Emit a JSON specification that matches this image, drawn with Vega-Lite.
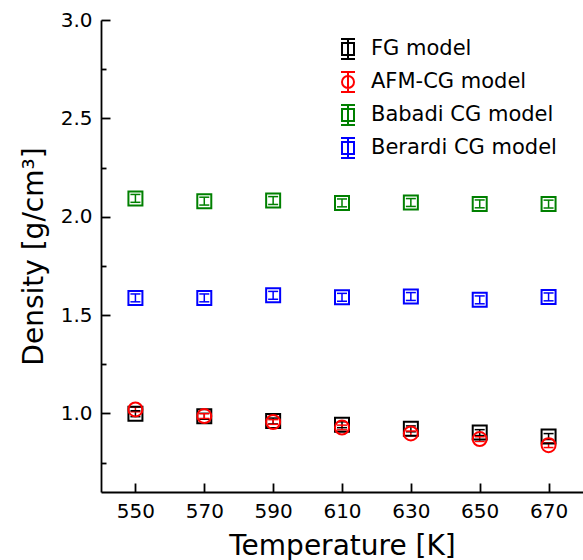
{
  "$schema": "https://vega.github.io/schema/vega-lite/v6.json",
  "width": 482,
  "height": 472,
  "autosize": {"type": "none"},
  "padding": {"left": 101, "top": 20, "right": 0, "bottom": 68},
  "background": "white",
  "config": {
    "view": {"stroke": null},
    "font": "DejaVu Sans",
    "legend": {"symbolSize": 400, "symbolStrokeWidth": 2},
    "axis": {
      "grid": false,
      "domainColor": "black",
      "domainWidth": 1.8,
      "tickColor": "black",
      "tickWidth": 1.8,
      "labelColor": "black",
      "labelFont": "DejaVu Sans",
      "labelFontSize": 20,
      "titleColor": "black",
      "titleFont": "DejaVu Sans",
      "titleFontSize": 28,
      "titleFontWeight": "normal"
    }
  },
  "data": {
    "values": [
      {"model": "FG model", "T": 550, "rho": 0.998, "lo": 0.983, "hi": 1.013},
      {"model": "FG model", "T": 570, "rho": 0.985, "lo": 0.970, "hi": 1.000},
      {"model": "FG model", "T": 590, "rho": 0.961, "lo": 0.946, "hi": 0.976},
      {"model": "FG model", "T": 610, "rho": 0.942, "lo": 0.927, "hi": 0.957},
      {"model": "FG model", "T": 630, "rho": 0.921, "lo": 0.906, "hi": 0.936},
      {"model": "FG model", "T": 650, "rho": 0.902, "lo": 0.887, "hi": 0.917},
      {"model": "FG model", "T": 670, "rho": 0.882, "lo": 0.867, "hi": 0.897},
      {"model": "AFM-CG model", "T": 550, "rho": 1.020, "lo": 1.008, "hi": 1.032},
      {"model": "AFM-CG model", "T": 570, "rho": 0.986, "lo": 0.974, "hi": 0.998},
      {"model": "AFM-CG model", "T": 590, "rho": 0.956, "lo": 0.944, "hi": 0.968},
      {"model": "AFM-CG model", "T": 610, "rho": 0.928, "lo": 0.916, "hi": 0.940},
      {"model": "AFM-CG model", "T": 630, "rho": 0.898, "lo": 0.886, "hi": 0.910},
      {"model": "AFM-CG model", "T": 650, "rho": 0.869, "lo": 0.857, "hi": 0.881},
      {"model": "AFM-CG model", "T": 670, "rho": 0.838, "lo": 0.826, "hi": 0.850},
      {"model": "Babadi CG model", "T": 550, "rho": 2.093, "lo": 2.073, "hi": 2.113},
      {"model": "Babadi CG model", "T": 570, "rho": 2.079, "lo": 2.059, "hi": 2.099},
      {"model": "Babadi CG model", "T": 590, "rho": 2.082, "lo": 2.062, "hi": 2.102},
      {"model": "Babadi CG model", "T": 610, "rho": 2.070, "lo": 2.050, "hi": 2.090},
      {"model": "Babadi CG model", "T": 630, "rho": 2.072, "lo": 2.052, "hi": 2.092},
      {"model": "Babadi CG model", "T": 650, "rho": 2.065, "lo": 2.045, "hi": 2.085},
      {"model": "Babadi CG model", "T": 670, "rho": 2.064, "lo": 2.044, "hi": 2.084},
      {"model": "Berardi CG model", "T": 550, "rho": 1.587, "lo": 1.567, "hi": 1.607},
      {"model": "Berardi CG model", "T": 570, "rho": 1.587, "lo": 1.567, "hi": 1.607},
      {"model": "Berardi CG model", "T": 590, "rho": 1.600, "lo": 1.580, "hi": 1.620},
      {"model": "Berardi CG model", "T": 610, "rho": 1.590, "lo": 1.570, "hi": 1.610},
      {"model": "Berardi CG model", "T": 630, "rho": 1.594, "lo": 1.574, "hi": 1.614},
      {"model": "Berardi CG model", "T": 650, "rho": 1.577, "lo": 1.557, "hi": 1.597},
      {"model": "Berardi CG model", "T": 670, "rho": 1.592, "lo": 1.572, "hi": 1.612}
    ]
  },
  "encoding": {
    "x": {
      "field": "T",
      "type": "quantitative",
      "scale": {"domain": [540, 680], "nice": false, "zero": false},
      "axis": {
        "title": "Temperature [K]",
        "values": [550, 570, 590, 610, 630, 650, 670],
        "tickSize": -9,
        "labelPadding": 18,
        "titlePadding": 11
      }
    },
    "y": {
      "field": "rho",
      "type": "quantitative",
      "scale": {"domain": [0.6, 3.0], "nice": false, "zero": false},
      "axis": {
        "title": "Density [g/cm³]",
        "values": [0.75, 1.0, 1.25, 1.5, 1.75, 2.0, 2.25, 2.5, 2.75, 3.0],
        "labelExpr": "datum.value % 0.5 == 0 ? format(datum.value, '.1f') : ''",
        "tickSize": {"condition": {"test": "datum.value % 0.5 != 0", "value": -5}, "value": -9},
        "labelPadding": 18,
        "titlePadding": 12
      }
    },
    "color": {
      "field": "model",
      "type": "nominal",
      "scale": {
        "domain": ["FG model", "AFM-CG model", "Babadi CG model", "Berardi CG model"],
        "range": ["#000000", "#ff0000", "#008000", "#0000ff"]
      },
      "legend": {
        "title": null,
        "orient": "none",
        "legendX": 236,
        "legendY": 18,
        "labelFont": "DejaVu Sans",
        "labelFontSize": 21,
        "labelColor": "black",
        "labelLimit": 400,
        "labelOffset": 12,
        "symbolSize": 400,
        "symbolStrokeWidth": 2,
        "symbolOpacity": 1,
        "rowPadding": 5
      }
    }
  },
  "layer": [
    {
      "mark": {"type": "rule", "strokeWidth": 1.5},
      "encoding": {
        "y": {"field": "lo", "type": "quantitative"},
        "y2": {"field": "hi"}
      }
    },
    {
      "mark": {"type": "rule", "strokeWidth": 1.5, "xOffset": -5, "x2Offset": 5},
      "encoding": {
        "x2": {"field": "T"},
        "y": {"field": "lo", "type": "quantitative"}
      }
    },
    {
      "mark": {"type": "rule", "strokeWidth": 1.5, "xOffset": -5, "x2Offset": 5},
      "encoding": {
        "x2": {"field": "T"},
        "y": {"field": "hi", "type": "quantitative"}
      }
    },
    {
      "transform": [{"filter": "datum.model !== 'AFM-CG model'"}],
      "mark": {"type": "point", "shape": "square", "filled": false, "strokeWidth": 2, "size": 196, "opacity": 1}
    },
    {
      "transform": [{"filter": "datum.model === 'AFM-CG model'"}],
      "mark": {"type": "point", "shape": "circle", "filled": false, "strokeWidth": 2, "size": 196, "opacity": 1}
    },
    {
      "mark": {"type": "point", "filled": false, "strokeWidth": 2, "size": 400, "opacity": 0},
      "encoding": {
        "shape": {
          "field": "model",
          "type": "nominal",
          "scale": {
            "domain": ["FG model", "AFM-CG model", "Babadi CG model", "Berardi CG model"],
            "range": [
              "M-0.6,-0.6H0.6V0.6H-0.6Z M0,-1V1 M-0.7,-1H0.7 M-0.7,1H0.7",
              "M0.6,0A0.6,0.6,0,1,1,-0.6,0A0.6,0.6,0,1,1,0.6,0Z M0,-1V1 M-0.7,-1H0.7 M-0.7,1H0.7",
              "M-0.6,-0.6H0.6V0.6H-0.6Z M0,-1V1 M-0.7,-1H0.7 M-0.7,1H0.7",
              "M-0.6,-0.6H0.6V0.6H-0.6Z M0,-1V1 M-0.7,-1H0.7 M-0.7,1H0.7"
            ]
          }
        }
      }
    }
  ]
}
